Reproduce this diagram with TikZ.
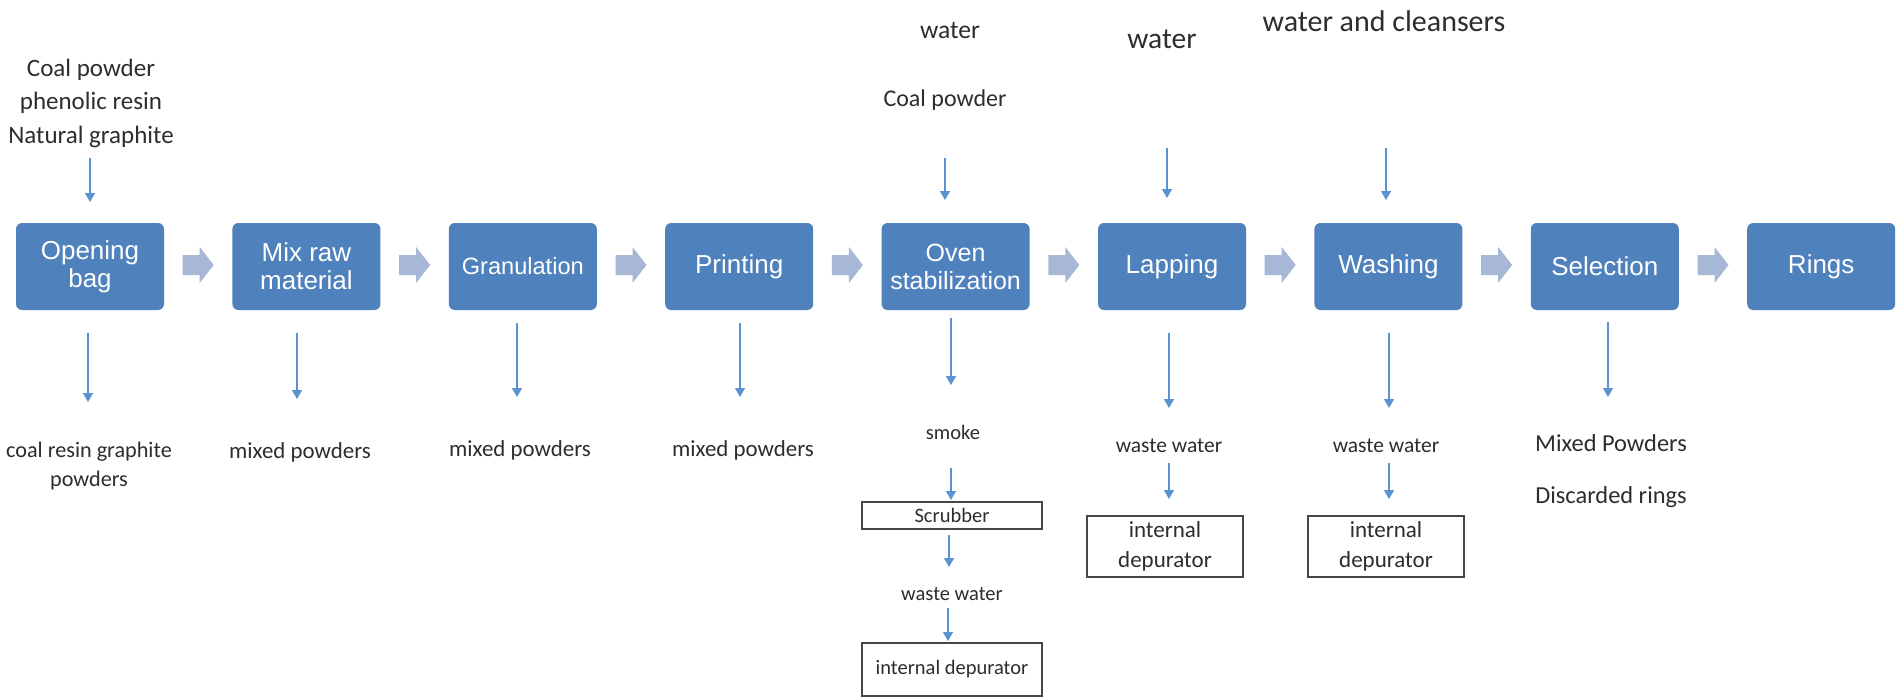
\documentclass[tikz,border=0pt]{standalone}
\usepackage{fontspec}
\setmainfont{Carlito}
\newfontfamily\arialf{Liberation Sans}
\usetikzlibrary{arrows.meta,calc}
\definecolor{boxblue}{RGB}{79,129,189}
\definecolor{blkarrow}{RGB}{167,183,214}
\definecolor{thinarrow}{RGB}{91,146,208}
\definecolor{txt}{RGB}{45,45,45}
\definecolor{obord}{RGB}{70,70,70}
\begin{document}
\begin{tikzpicture}[x=1pt,y=-1pt,
  proc/.style={rectangle,rounded corners=6pt,fill=boxblue,text=white,minimum width=148pt,minimum height=87pt,inner sep=0pt,align=center,font=\arialf\fontsize{26}{28}\selectfont},
  blk/.style={fill=blkarrow,draw=none},
  lbl/.style={text=txt,inner sep=0pt,align=center},
  obox/.style={draw=obord,line width=1.6pt,inner sep=0pt,align=center,text=txt},
  flow/.style={draw=thinarrow,line width=1.4pt,-{Triangle[width=10pt,length=9pt]}}
]
\useasboundingbox[fill=white] (0,0) rectangle (1897,697);

% main process boxes
\node[proc] (b1) at (90,266.5) {Opening\\bag};
\node[proc] (b2) at (306.4,266.5) {Mix raw\\material};
\node[proc,font=\arialf\fontsize{23.6}{26}\selectfont] (b3) at (522.8,266.5) {Granulation};
\node[proc] (b4) at (739.2,266.5) {Printing};
\node[proc,font=\arialf\fontsize{25}{28}\selectfont] (b5) at (955.6,266.5) {Oven\\stabilization};
\node[proc] (b6) at (1172,266.5) {Lapping};
\node[proc] (b7) at (1388.4,266.5) {Washing};
\node[proc] (b8) at (1604.8,266.5) {Selection};
\node[proc] (b9) at (1821.2,266.5) {Rings};

% block arrows between consecutive boxes
\foreach \p/\q [count=\i] in {b1/b2,b2/b3,b3/b4,b4/b5,b5/b6,b6/b7,b7/b8,b8/b9}{
  \coordinate (m\i) at ($(\p.east)!0.5!(\q.west)+(0,-1.5)$);
  \fill[blk,shift={(m\i)}] (-15.5,-10) -- (1.5,-10) -- (1.5,-18) -- (15.5,0)
     -- (1.5,18) -- (1.5,10) -- (-15.5,10) -- cycle;
}

% top inputs
\node[lbl,font=\fontsize{25}{33.5}\selectfont] (in1) at (91,103) {Coal powder\\phenolic resin\\Natural graphite};
\node[lbl,font=\fontsize{25.6}{30}\selectfont] (in5a) at (950,30) {water};
\node[lbl,font=\fontsize{24}{30}\selectfont] (in5b) at (945,100) {Coal powder};
\node[lbl,font=\fontsize{29.5}{34}\selectfont] (in6) at (1162,39) {water};
\node[lbl,font=\fontsize{30}{34}\selectfont] (in7) at (1384,21) {water and cleansers};

\coordinate (t1s) at (90,158);   \coordinate (t1e) at (90,202);
\coordinate (t5s) at (945,158);  \coordinate (t5e) at (945,200);
\coordinate (t6s) at (1167,148); \coordinate (t6e) at (1167,198);
\coordinate (t7s) at (1386,148); \coordinate (t7e) at (1386,200);
\draw[flow] (t1s) -- (t1e);
\draw[flow] (t5s) -- (t5e);
\draw[flow] (t6s) -- (t6e);
\draw[flow] (t7s) -- (t7e);

% bottom outputs
\node[lbl,font=\fontsize{22.2}{29}\selectfont] (o1) at (89,466) {coal resin graphite\\powders};
\node[lbl,font=\fontsize{22.9}{29}\selectfont] (o2) at (300,452) {mixed powders};
\node[lbl,font=\fontsize{22.9}{29}\selectfont] (o3) at (520,450) {mixed powders};
\node[lbl,font=\fontsize{22.9}{29}\selectfont] (o4) at (743,450) {mixed powders};
\node[lbl,font=\fontsize{20.5}{26}\selectfont] (o5) at (953,432) {smoke};
\node[obox,minimum width=180pt,minimum height=27pt,font=\fontsize{20.5}{26}\selectfont] (scr) at (952,515.5) {Scrubber};
\node[lbl,font=\fontsize{20.5}{26}\selectfont] (ww5) at (952,594) {waste water};
\node[obox,minimum width=180pt,minimum height=53pt,font=\fontsize{20.5}{26}\selectfont] (dep5) at (952,669.5) {internal depurator};
\node[lbl,font=\fontsize{21.5}{28}\selectfont] (ww6) at (1169,446) {waste water};
\node[obox,minimum width=156pt,minimum height=61pt,font=\fontsize{23}{30}\selectfont] (dep6) at (1165,546.5) {internal\\depurator};
\node[lbl,font=\fontsize{21.5}{28}\selectfont] (ww7) at (1386,446) {waste water};
\node[obox,minimum width=156pt,minimum height=61pt,font=\fontsize{23}{30}\selectfont] (dep7) at (1386,546.5) {internal\\depurator};
\node[lbl,font=\fontsize{24.4}{52}\selectfont] (o8) at (1611,471) {Mixed Powders\\Discarded rings};

\coordinate (d1s) at (88,333);   \coordinate (d1e) at (88,402);
\coordinate (d2s) at (297,333);  \coordinate (d2e) at (297,399);
\coordinate (d3s) at (517,323);  \coordinate (d3e) at (517,397);
\coordinate (d4s) at (740,323);  \coordinate (d4e) at (740,397);
\coordinate (d5s) at (951,318);  \coordinate (d5e) at (951,385);
\coordinate (s1s) at (951,468);  \coordinate (s1e) at (951,500);
\coordinate (s2s) at (949,535);  \coordinate (s2e) at (949,567);
\coordinate (s3s) at (948,608);  \coordinate (s3e) at (948,641);
\coordinate (d6s) at (1169,333); \coordinate (d6e) at (1169,408);
\coordinate (w6s) at (1169,463); \coordinate (w6e) at (1169,499);
\coordinate (d7s) at (1389,333); \coordinate (d7e) at (1389,408);
\coordinate (w7s) at (1389,463); \coordinate (w7e) at (1389,499);
\coordinate (d8s) at (1608,322); \coordinate (d8e) at (1608,397);
\draw[flow] (d1s) -- (d1e);
\draw[flow] (d2s) -- (d2e);
\draw[flow] (d3s) -- (d3e);
\draw[flow] (d4s) -- (d4e);
\draw[flow] (d5s) -- (d5e);
\draw[flow] (s1s) -- (s1e);
\draw[flow] (s2s) -- (s2e);
\draw[flow] (s3s) -- (s3e);
\draw[flow] (d6s) -- (d6e);
\draw[flow] (w6s) -- (w6e);
\draw[flow] (d7s) -- (d7e);
\draw[flow] (w7s) -- (w7e);
\draw[flow] (d8s) -- (d8e);
\end{tikzpicture}
\end{document}
